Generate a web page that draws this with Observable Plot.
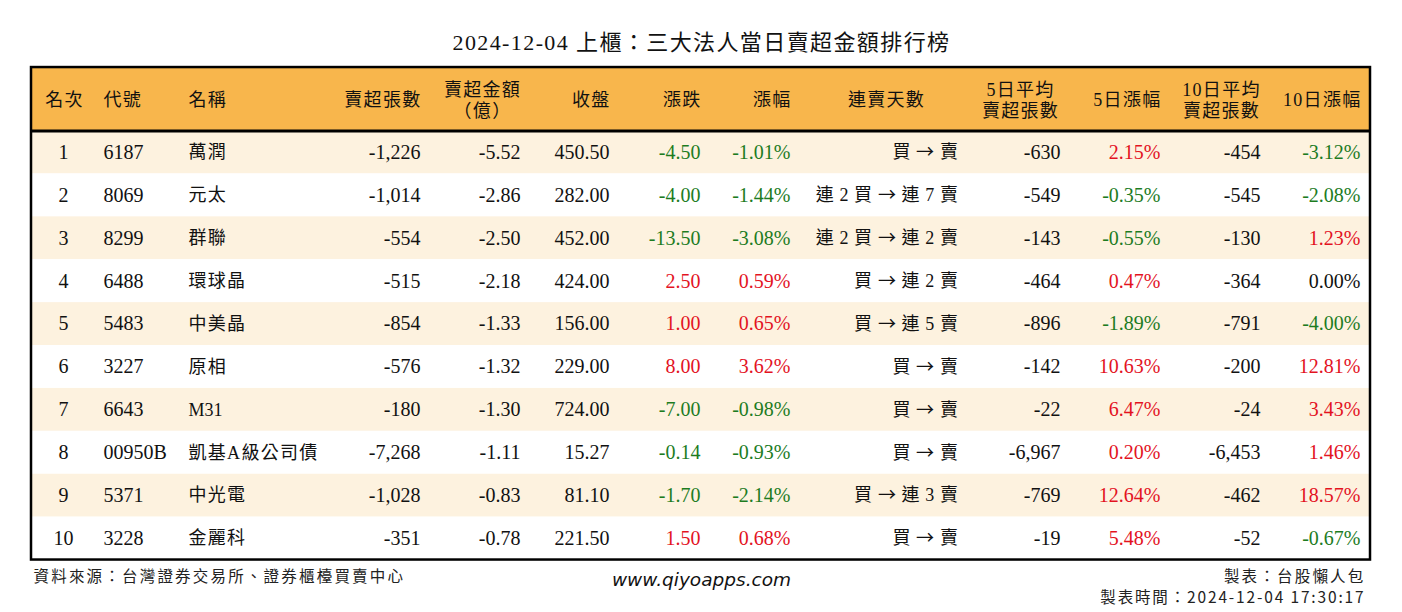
<!DOCTYPE html>
<html><head><meta charset="utf-8">
<script src="https://cdn.jsdelivr.net/npm/d3@7"></script>
<script src="https://cdn.jsdelivr.net/npm/@observablehq/plot@0.6"></script>
<style>
body{margin:0;background:#fff;}
@font-face{font-family:"ArrowGlyph";src:local("Noto Sans CJK TC Regular"),local("NotoSansCJKtc-Regular"),local("Noto Sans CJK TC"),local("DejaVu Sans");unicode-range:U+2192;}
</style>
</head><body><div id="chart"></div>
<script>
// ---- data ----
const ranks = [1, 2, 3, 4, 5, 6, 7, 8, 9, 10];
const codes = ["6187", "8069", "8299", "6488", "5483", "3227", "6643", "00950B", "5371", "3228"];
const names = ["萬潤", "元太", "群聯", "環球晶", "中美晶", "原相", "M31", "凱基A級公司債", "中光電", "金麗科"];
const sellShares = [-1226, -1014, -554, -515, -854, -576, -180, -7268, -1028, -351];
const sellAmount = [-5.52, -2.86, -2.50, -2.18, -1.33, -1.32, -1.30, -1.11, -0.83, -0.78];
const closes = [450.50, 282.00, 452.00, 424.00, 156.00, 229.00, 724.00, 15.27, 81.10, 221.50];
const changes = [-4.50, -4.00, -13.50, 2.50, 1.00, 8.00, -7.00, -0.14, -1.70, 1.50];
const changePct = [-1.01, -1.44, -3.08, 0.59, 0.65, 3.62, -0.98, -0.93, -2.14, 0.68];
const streaks = ["買 → 賣", "連 2 買 → 連 7 賣", "連 2 買 → 連 2 賣", "買 → 連 2 賣", "買 → 連 5 賣",
                 "買 → 賣", "買 → 賣", "買 → 賣", "買 → 連 3 賣", "買 → 賣"];
const avg5 = [-630, -549, -143, -464, -896, -142, -22, -6967, -769, -19];
const pct5 = [2.15, -0.35, -0.55, 0.47, -1.89, 10.63, 6.47, 0.20, 12.64, 5.48];
const avg10 = [-454, -545, -130, -364, -791, -200, -24, -6453, -462, -52];
const pct10 = [-3.12, -2.08, 1.23, 0.00, -4.00, 12.81, 3.43, 1.46, 18.57, -0.67];

const titleText = "2024-12-04 上櫃：三大法人當日賣超金額排行榜";
const sourceText = "資料來源：台灣證券交易所、證券櫃檯買賣中心";
const siteText = "www.qiyoapps.com";
const makerText = "製表：台股懶人包";
const timeText = "製表時間：2024-12-04 17:30:17";

// ---- formatting & colours ----
const loc = d3.formatLocale({decimal: ".", thousands: ",", grouping: [3], currency: ["", ""], minus: "-"});
const fInt = loc.format(",d");
const f2 = loc.format(".2f");
const fPct = v => f2(v) + "%";
const GREEN = "#1d7c1f", RED = "#e3131f", BLACK = "#111";
const signColor = v => v < 0 ? GREEN : v > 0 ? RED : BLACK;
const plain = () => BLACK;

// ---- column layout (table geometry, not data) ----
const columns = [
  {header: "名次", values: ranks, fmt: String, color: plain, x: 63, anchor: "middle", hx: 64, hanchor: "middle"},
  {header: "代號", values: codes, fmt: String, color: plain, x: 103, anchor: "start", hx: 103, hanchor: "start"},
  {header: "名稱", values: names, fmt: String, color: plain, x: 188, anchor: "start", hx: 188, hanchor: "start", cjk: true},
  {header: "賣超張數", values: sellShares, fmt: fInt, color: plain, x: 420, anchor: "end", hx: 421, hanchor: "end"},
  {header: "賣超金額\n（億）", values: sellAmount, fmt: f2, color: plain, x: 520, anchor: "end", hx: 482, hanchor: "middle"},
  {header: "收盤", values: closes, fmt: f2, color: plain, x: 609, anchor: "end", hx: 610, hanchor: "end"},
  {header: "漲跌", values: changes, fmt: f2, color: signColor, x: 700, anchor: "end", hx: 701, hanchor: "end"},
  {header: "漲幅", values: changePct, fmt: fPct, color: signColor, x: 790, anchor: "end", hx: 791, hanchor: "end"},
  {header: "連賣天數", values: streaks, fmt: String, color: plain, x: 958, anchor: "end", hx: 886, hanchor: "middle", cjk: true},
  {header: "5日平均\n賣超張數", values: avg5, fmt: fInt, color: plain, x: 1060, anchor: "end", hx: 1020, hanchor: "middle"},
  {header: "5日漲幅", values: pct5, fmt: fPct, color: signColor, x: 1160, anchor: "end", hx: 1161, hanchor: "end"},
  {header: "10日平均\n賣超張數", values: avg10, fmt: fInt, color: plain, x: 1260, anchor: "end", hx: 1221, hanchor: "middle"},
  {header: "10日漲幅", values: pct10, fmt: fPct, color: signColor, x: 1360, anchor: "end", hx: 1361, hanchor: "end"}
];

const cells = columns.flatMap(c => c.values.map((v, i) => ({
  x: c.x, rank: ranks[i], text: c.fmt(v), color: c.color(v), anchor: c.anchor, cjk: !!c.cjk
})));

// geometry in row units
const W = 1402, H = 612;
const tableLeft = 31, tableRight = 1370;
const headerTop = -0.98, headerBottom = 0.5, headerMid = -0.24;
const tableBottom = ranks.length + 0.5;
const yTop = -2.543, yBottom = 11.723;

const FONT = "'ArrowGlyph', 'Liberation Serif', 'Noto Sans CJK TC', serif";
const CJK = "'Noto Sans CJK TC', 'Liberation Serif', sans-serif";

const textMarks = [];
for (const anchor of ["start", "middle", "end"]) {
  for (const cjk of [false, true]) {
    const sub = cells.filter(d => d.anchor === anchor && d.cjk === cjk);
    if (!sub.length) continue;
    textMarks.push(Plot.text(sub, {
      x: "x", y: "rank", text: "text", fill: "color", textAnchor: anchor,
      fontSize: cjk ? 18 : 20, fontFamily: FONT
    }));
  }
}
const headerMarks = ["start", "middle", "end"].map(a => Plot.text(columns.filter(c => c.hanchor === a), {
  x: "hx", y: () => headerMid, text: "header", textAnchor: a, fontSize: 18, lineHeight: 1.17,
  fontFamily: FONT, fill: BLACK
}));

const chart = Plot.plot({
  width: W, height: H,
  margin: 0,
  x: {type: "linear", domain: [0, W], range: [0, W], axis: null},
  y: {type: "linear", domain: [yTop, yBottom], range: [0, H], axis: null},
  color: {type: "identity"},
  style: {fontFamily: FONT, background: "#fff", overflow: "visible"},
  marks: [
    Plot.rect([0], {x1: tableLeft, x2: tableRight, y1: headerTop, y2: headerBottom, fill: "#f8b64c"}),
    Plot.rect(ranks, {x1: tableLeft, x2: tableRight, y1: r => r - 0.5, y2: r => r + 0.5,
      fill: r => r % 2 ? "#fdf2df" : "#ffffff"}),
    Plot.ruleY([headerBottom], {x1: tableLeft, x2: tableRight, stroke: "#000", strokeWidth: 3}),
    Plot.rect([0], {x1: tableLeft, x2: tableRight, y1: headerTop, y2: tableBottom,
      fill: "none", stroke: "#000", strokeWidth: 2.5}),
    ...headerMarks,
    ...textMarks,
    Plot.text([titleText], {frameAnchor: "top", lineAnchor: "middle", dy: 42, text: d => d,
      fontSize: 22, fontFamily: FONT, fill: BLACK}),
    Plot.text([sourceText], {frameAnchor: "top-left", lineAnchor: "middle", dx: 33, dy: 577, text: d => d,
      textAnchor: "start", fontSize: 15.5, fontFamily: CJK, fill: "#222"}),
    Plot.text([siteText], {frameAnchor: "top", lineAnchor: "middle", dy: 580, text: d => d,
      fontSize: 18.5, fontFamily: "'DejaVu Sans', sans-serif", fontStyle: "italic", fill: "#111"}),
    Plot.text([makerText], {frameAnchor: "top-right", lineAnchor: "middle", dx: -37, dy: 577, text: d => d,
      textAnchor: "end", fontSize: 15.5, fontFamily: CJK, fill: "#222"}),
    Plot.text([timeText], {frameAnchor: "top-right", lineAnchor: "middle", dx: -37, dy: 598, text: d => d,
      textAnchor: "end", fontSize: 15.5, fontFamily: CJK, fill: "#222"})
  ]
});
// widen spacing of CJK glyphs, as in the reference typeface
const hasCJK = /[\u3000-\u9fff\uff00-\uffef]/;
d3.select(chart).selectAll("text").each(function() {
  const t = this.textContent;
  if (!hasCJK.test(t)) return;
  let ls = 1.3;
  if (t === titleText) ls = 1.4;
  else if (t === sourceText || t === makerText) ls = 2.2;
  else if (t === timeText) ls = 1.85;
  else if (t.includes("→")) ls = 0.6;
  d3.select(this).attr("letter-spacing", ls);
});
document.getElementById("chart").appendChild(chart);
</script>
</body></html>
